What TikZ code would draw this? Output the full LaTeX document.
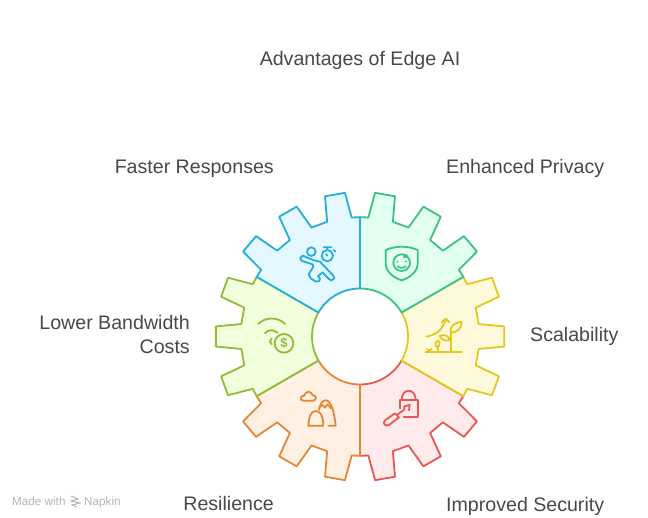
\documentclass[tikz,border=0pt]{standalone}
\usepackage{fontspec}
\setmainfont{Liberation Sans}
\usetikzlibrary{arrows.meta}
\usetikzlibrary{positioning}
\definecolor{skyline}{HTML}{24AFD6}
\definecolor{skyfill}{HTML}{E5F8FF}
\definecolor{mintline}{HTML}{3BC382}
\definecolor{mintfill}{HTML}{E2FFF0}
\definecolor{goldline}{HTML}{E3C81E}
\definecolor{goldfill}{HTML}{FFF9DC}
\definecolor{roseline}{HTML}{E85656}
\definecolor{rosefill}{HTML}{FFEBEB}
\definecolor{amberline}{HTML}{E58636}
\definecolor{amberfill}{HTML}{FFF0E3}
\definecolor{limeline}{HTML}{90BC3A}
\definecolor{limefill}{HTML}{F2FFDC}
\definecolor{inktext}{HTML}{484848}
\definecolor{marktext}{HTML}{B4B4B4}
\tikzset{
	sector/.style={line width=1.8pt, line join=round},
	icon/.style={line width=1.8pt, line join=round, line cap=round},
	caption/.style={inner sep=0pt, text=inktext, anchor=base, font=\fontsize{19.6}{24}\selectfont},
	footmark/.style={inner sep=0pt, text=marktext, anchor=base west, font=\fontsize{11.7}{13}\selectfont}
}
\begin{document}
\begin{tikzpicture}[x=1pt,y=-1pt]
	\useasboundingbox (0,0) rectangle (648,518);
	% gear sectors, last one drawn lies on top
	\foreach \rot/\edge/\inside in {-120/roseline/rosefill, -60/goldline/goldfill, 0/mintline/mintfill, 180/amberline/amberfill, 120/limeline/limefill, 60/skyline/skyfill}{
		\begin{scope}[shift={(360,336.5)},rotate=\rot]
			\draw[sector, draw=\edge, fill=\inside] (30:48pt) -- (30:119.3pt) -- (34:119.3pt) -- (36:144.5pt) -- (44:144.5pt) -- (46:119.3pt) -- (54:119.3pt) -- (56:144.5pt) -- (64:144.5pt) -- (66:119.3pt) -- (74:119.3pt) -- (76:144.5pt) -- (84:144.5pt) -- (86:119.3pt) -- (90:119.3pt) -- (90:48pt) arc (90:30:48pt) -- cycle;
		\end{scope}
	}
	% captions
	\node[caption] (title) at (360,66) {Advantages of Edge AI};
	\node[caption, anchor=base east] (faster) at (274,174) {Faster Responses};
	\node[caption, anchor=base west] (privacy) at (446,174) {Enhanced Privacy};
	\node[caption, anchor=base west] (scale) at (530,342) {Scalability};
	\node[caption, anchor=base east] (bandwidth) at (190,330) {Lower Bandwidth};
	\node[caption, anchor=base east] (costs) at (190,354) {Costs};
	\node[caption, anchor=base east] (resilience) at (274,510) {Resilience};
	\node[caption, anchor=base west] (security) at (446,511) {Improved Security};
	% runner with stopwatch
	\begin{scope}[shift={(290,235)},scale=1/3,skyline]
		\draw[icon] (64,50) circle (13);
		\draw[icon] (38,62) -- (72,76) -- (90,80) -- (130,122) -- (133,130) -- (125,136) -- (118,133) -- (97,112) -- (84,124) -- (90,130) -- (88,138) -- (78,140) -- (62,130) -- (56,118) -- (70,95) -- (68,88) -- (36,78) -- (30,70) -- cycle;
		\draw[icon] (112,62) circle (17);
		\draw[icon] (101,37) -- (124,37) (112,37) -- (112,45) (131,45) -- (136,50) (112,62) -- (108,57);
	\end{scope}
	% shield with face
	\begin{scope}[shift={(375,235)},scale=1/3,mintline]
		\draw[icon] (32,45) .. controls (60,32) and (100,32) .. (128,45) -- (128,85) .. controls (128,110) and (105,128) .. (80,136) .. controls (55,128) and (32,110) .. (32,85) -- cycle;
		\draw[icon] (80,83) circle (25);
		\fill (67,80) circle (3) (93,80) circle (3);
		\draw[icon] (68,94) .. controls (74,100) and (86,100) .. (92,94);
		\draw[icon] (86,66) .. controls (92,68) and (96,66) .. (95,60);
	\end{scope}
	% plant with rising arrow
	\begin{scope}[shift={(415,310)},scale=1/3,goldline]
		\draw[icon] (32,127) -- (140,127) (107,127) -- (107,68) (70,127) -- (70,108);
		\draw[icon] (107,68) .. controls (104,45) and (122,38) .. (140,35) .. controls (142,52) and (128,68) .. (107,68);
		\draw[icon] (105,90) .. controls (100,76) and (88,72) .. (74,78) .. controls (80,90) and (92,95) .. (105,90);
		\draw[icon] (72,108) .. controls (76,100) and (74,96) .. (70,92) .. controls (60,96) and (58,106) .. (66,112) -- cycle;
		\draw[icon] (36,117) -- (48,126) (50,117) -- (42,122);
		\draw[icon] (34,80) .. controls (60,76) and (84,60) .. (92,28);
		\draw[icon] (80,37) -- (92,26) -- (103,37);
	\end{scope}
	% wifi arcs with coin
	\begin{scope}[shift={(250,310)},scale=1/3,limeline]
		\draw[icon] (25,42) .. controls (45,20) and (85,20) .. (105,42);
		\draw[icon] (45,70) .. controls (55,58) and (70,58) .. (82,68);
		\draw[icon] (65,86) .. controls (58,90) and (58,98) .. (65,103);
		\draw[icon] (102,100) circle (28);
		\node[inner sep=0pt, text=limeline, font=\fontsize{13}{15}\selectfont\bfseries] (coin) at (102,100) {\$};
	\end{scope}
	% hills and cloud
	\begin{scope}[shift={(295,385)},scale=1/3,amberline]
		\draw[icon] (26,47) .. controls (14,47) and (14,32) .. (27,32) .. controls (32,16) and (50,18) .. (52,30) .. controls (66,30) and (66,47) .. (54,47) -- cycle;
		\draw[icon] (40,122) -- (85,122) .. controls (84,95) and (78,78) .. (62,78) .. controls (46,78) and (42,98) .. (40,122);
		\draw[icon] (72,75) .. controls (76,55) and (82,46) .. (92,46) .. controls (108,46) and (118,80) .. (122,122) -- (100,122);
		\draw[icon] (74,66) -- (82,60) -- (90,68) -- (98,58) -- (108,70);
	\end{scope}
	% lock with key
	\begin{scope}[shift={(375,385)},scale=1/3,roseline]
		\draw[icon] (80,45) .. controls (80,8) and (122,8) .. (122,45);
		\draw[icon] (76,70) -- (76,45) -- (130,45) -- (130,95) -- (86,95);
		\draw[icon] (30,106) -- (60,85) -- (72,97) -- (42,120) .. controls (30,126) and (22,114) .. (30,106) -- cycle;
		\draw[icon] (68,88) -- (88,74) -- (88,64) -- (104,60) -- (102,76);
	\end{scope}
	% footer mark
	\node[footmark] (madewith) at (12,505) {Made with};
	\node[footmark] (napkin) at (84,505) {Napkin};
	\draw[marktext, line width=1pt] (71,496) -- (78,499) -- (71,501) -- (80,503) -- (72,505) -- (77,507);
\end{tikzpicture}
\end{document}
